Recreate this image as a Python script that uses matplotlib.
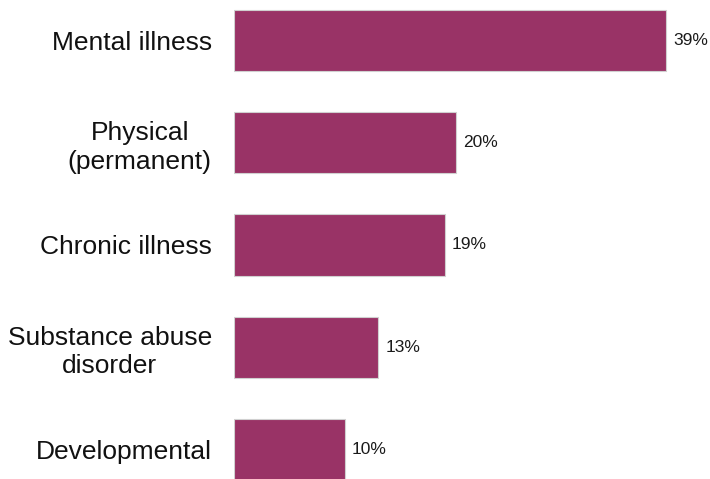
import matplotlib.pyplot as plt

categories = ["Mental illness", "Physical\n(permanent)", "Chronic illness",
              "Substance abuse\ndisorder", "Developmental"]
values = [39, 20, 19, 13, 10]
value_labels = ["39%", "20%", "19%", "13%", "10%"]

plt.rcParams['font.family'] = ['Liberation Sans', 'DejaVu Sans']

fig = plt.figure(figsize=(7.1, 4.79), dpi=100)
ax = fig.add_axes([234 / 710, 0, 1 - 234 / 710, 1])

y = range(len(categories))
bars = ax.barh(y, values, height=0.6, color='#993366', edgecolor='#d0d0d0', linewidth=0.8)

for b, lab in zip(bars, value_labels):
    ax.text(b.get_width() + 0.65, b.get_y() + b.get_height() / 2, lab,
            va='center', ha='left', fontsize=12.5, color='#1a1a1a')

ax.set_xlim(0, 42.96)
ax.set_ylim(4.289, -0.396)
ax.set_yticks(list(y))
ax.set_yticklabels(categories, fontsize=19, color='#111111', linespacing=1.25)
for t in ax.get_yticklabels():
    t.set_multialignment('center')
ax.tick_params(axis='y', length=0, pad=16)
ax.set_xticks([])
for s in ax.spines.values():
    s.set_visible(False)

plt.savefig("out.png", dpi=100)
